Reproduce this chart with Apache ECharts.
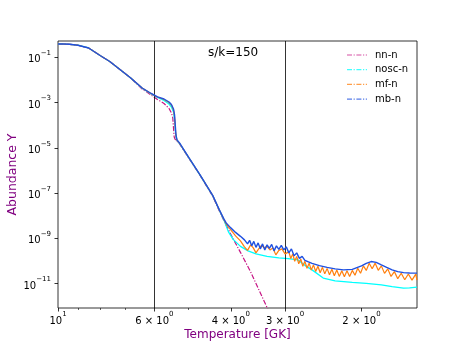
<!DOCTYPE html>
<html>
<head>
<meta charset="utf-8">
<script src="https://cdn.jsdelivr.net/npm/echarts@6/dist/echarts.min.js"></script>
<style>html,body{margin:0;padding:0;background:#fff}#c{width:463px;height:347px}</style>
</head>
<body>
<div id="c"></div>
<script>
// ---- data (temperature in GK, abundance Y) ----
const seriesNames = ['nn-n', 'nosc-n', 'mf-n', 'mb-n'];

const tempHead = [10, 9.7, 9.4, 9.0, 8.5, 8.0, 7.6, 7.2, 6.8];
const abundHead = [0.386, 0.385, 0.375, 0.342, 0.258, 0.120, 0.0653, 0.0289, 0.0122];

const tempNN = [6.4, 6.1, 5.9, 5.7, 5.55, 5.48, 5.44, 5.42, 5.40, 5.37, 5.32, 5.25, 5.0, 4.7, 4.4, 4.25, 4.15, 4.0, 3.8, 3.6, 3.4, 3.25];
const abundNN = [3.98e-3, 2.16e-3, 1.37e-3, 9.13e-4, 5.49e-4, 3.48e-4, 2.09e-4, 7.57e-5, 3.03e-5, 2.35e-5, 2.02e-5, 1.49e-5, 3.58e-6, 5.74e-7, 7.15e-8, 1.64e-8, 6.24e-9, 1.50e-9, 2.41e-10, 3.32e-11, 3.04e-12, 4.65e-13];

const tempNosc = [6.4, 6.1, 5.9, 5.7, 5.55, 5.48, 5.42, 5.39, 5.37, 5.35, 5.32, 5.25, 5.0, 4.7, 4.4, 4.25, 4.15, 4.05, 3.95, 3.8, 3.65, 3.5, 3.3, 3.1, 2.95, 2.8, 2.7, 2.6, 2.45, 2.3, 2.1, 1.95, 1.8, 1.7, 1.6, 1.55, 1.49];
const abundNosc = [4.28e-3, 2.40e-3, 1.68e-3, 1.24e-3, 8.67e-4, 6.39e-4, 3.85e-4, 1.71e-4, 6.17e-5, 3.03e-5, 2.12e-5, 1.56e-5, 3.7e-6, 5.95e-7, 7.6e-8, 1.75e-8, 6.56e-9, 1.94e-9, 9.04e-10, 4.43e-10, 2.81e-10, 2.07e-10, 1.60e-10, 1.38e-10, 1.27e-10, 1.12e-10, 6.43e-11, 4.07e-11, 1.77e-11, 1.33e-11, 1.14e-11, 1.03e-11, 8.85e-12, 7.36e-12, 6.32e-12, 6.52e-12, 7.0e-12];

const tempMf = [6.4, 6.1, 5.9, 5.7, 5.55, 5.48, 5.42, 5.39, 5.37, 5.35, 5.32, 5.25, 5.0, 4.7, 4.4, 4.25, 4.15, 4.1, 4.0, 3.9, 3.8, 3.72, 3.66, 3.60, 3.55, 3.50, 3.45, 3.40, 3.35, 3.30, 3.25, 3.20, 3.15, 3.10, 3.05, 3.00,
  2.94, 2.91, 2.88, 2.85, 2.82, 2.79, 2.76, 2.73, 2.70, 2.67, 2.64, 2.61, 2.58, 2.55, 2.52, 2.49, 2.46, 2.43, 2.40, 2.37, 2.34, 2.31, 2.28, 2.25, 2.22, 2.19, 2.16, 2.13, 2.10, 2.07, 2.04, 2.01, 1.98, 1.95, 1.92, 1.89, 1.86, 1.83, 1.80, 1.77, 1.74, 1.71, 1.68, 1.65, 1.62, 1.59, 1.56, 1.53, 1.50, 1.49];
const abundMf = [4.41e-3, 2.47e-3, 1.77e-3, 1.37e-3, 1.01e-3, 7.83e-4, 4.71e-4, 2.31e-4, 8.38e-5, 3.35e-5, 2.12e-5, 1.6e-5, 3.75e-6, 6.0e-7, 7.7e-8, 1.78e-8, 7.0e-9, 4.37e-9, 2.37e-9, 1.29e-9, 7.76e-10, 4.22e-10, 2.95e-10, 5.16e-10, 3.80e-10, 2.29e-10, 3.44e-10, 4.91e-10, 3.80e-10, 4.43e-10, 3.10e-10, 3.80e-10, 1.87e-10, 2.95e-10, 3.44e-10, 2.07e-10,
  2.54e-10, 1.29e-10, 2.07e-10, 9.77e-11, 1.60e-10, 7.59e-11, 1.23e-10, 5.89e-11, 9.66e-11, 4.79e-11, 8.04e-11, 3.98e-11, 6.76e-11, 3.43e-11, 5.89e-11, 3.01e-11, 5.25e-11, 2.70e-11, 4.73e-11, 2.45e-11, 4.32e-11, 2.24e-11, 3.98e-11, 2.09e-11, 3.73e-11, 2.00e-11, 3.72e-11, 2.06e-11, 3.85e-11, 2.34e-11, 4.79e-11, 2.88e-11, 6.10e-11, 3.85e-11, 7.94e-11, 4.57e-11, 8.04e-11, 3.89e-11, 6.10e-11, 2.84e-11, 4.50e-11, 2.09e-11, 3.40e-11, 1.66e-11, 2.87e-11, 1.49e-11, 2.67e-11, 1.43e-11, 2.63e-11, 1.43e-11];

const tempMb = [6.4, 6.1, 5.9, 5.7, 5.55, 5.48, 5.42, 5.39, 5.37, 5.35, 5.32, 5.25, 5.0, 4.7, 4.4, 4.25, 4.15, 4.1, 4.0, 3.9, 3.8, 3.72, 3.66, 3.62, 3.58, 3.54, 3.50, 3.46, 3.42, 3.38, 3.34, 3.30, 3.26, 3.22, 3.18, 3.14, 3.10, 3.06, 3.02, 2.98, 2.94, 2.90, 2.86, 2.82, 2.78, 2.74, 2.70, 2.65, 2.6, 2.5, 2.4, 2.3, 2.2, 2.1, 2.0, 1.95, 1.9, 1.85, 1.8, 1.75, 1.7, 1.65, 1.6, 1.55, 1.49];
const abundMb = [4.41e-3, 2.52e-3, 1.8e-3, 1.44e-3, 1.06e-3, 8.24e-4, 5.21e-4, 2.84e-4, 1.03e-4, 3.72e-5, 2.23e-5, 1.65e-5, 3.77e-6, 6.04e-7, 7.76e-8, 1.81e-8, 7.26e-9, 4.83e-9, 2.91e-9, 1.84e-9, 1.23e-9, 8.59e-10, 5.72e-10, 8.17e-10, 4.67e-10, 7.38e-10, 4.01e-10, 6.32e-10, 3.44e-10, 5.72e-10, 3.10e-10, 5.16e-10, 3.61e-10, 5.43e-10, 2.81e-10, 4.67e-10, 3.27e-10, 4.91e-10, 3.10e-10, 4.22e-10, 2.29e-10, 3.44e-10, 1.69e-10, 2.29e-10, 1.31e-10, 1.60e-10, 1.07e-10, 9.16e-11, 7.87e-11, 6.23e-11, 5.25e-11, 4.50e-11, 4.07e-11, 4.28e-11, 6.11e-11, 7.87e-11, 9.46e-11, 8.71e-11, 6.76e-11, 5.25e-11, 4.07e-11, 3.39e-11, 3.06e-11, 2.94e-11, 2.91e-11];

const markTemps = [6, 3];
const xTickValues = [10, 6, 4, 3, 2];
const xTickLabels = ['10^1', '6 × 10^0', '4 × 10^0', '3 × 10^0', '2 × 10^0'];
const xMinorValues = [9, 8, 7, 5];
const yTickValues = [1e-11, 1e-9, 1e-7, 1e-5, 1e-3, 1e-1];
const yTickLabels = ['10^−11', '10^−9', '10^−7', '10^−5', '10^−3', '10^−1'];
const annotation = 's/k=150';

// ---- helpers ----
const FONT = 'DejaVu Sans';
function pairs(ts, ys) { return ts.map((t, i) => [t, ys[i]]); }
function nearestLabel(v, vals, labels) {
  let best = 0, bd = Infinity;
  vals.forEach((w, i) => { const d = Math.abs(Math.log(v) - Math.log(w)); if (d < bd) { bd = d; best = i; } });
  const parts = labels[best].split('^');
  return '{b|' + parts[0] + '}{s|' + parts[1] + '}';
}
const richSup = {
  b: { fontSize: 10, fontFamily: FONT, color: '#000', lineHeight: 15, verticalAlign: 'bottom' },
  s: { fontSize: 7, fontFamily: FONT, color: '#000', lineHeight: 7, verticalAlign: 'top' }
};

const colors = ['#c71585', '#00ffff', '#ff7f0e', '#1f50e0'];
const dashDot = [5, 1.6, 1.2, 1.6];

const chart = echarts.init(document.getElementById('c'), null, { renderer: 'canvas' });
const lineBase = (name, data, color, width, z, dashed) => ({
  name, type: 'line', data, showSymbol: false, symbol: 'none', z,
  lineStyle: { color, width, type: dashed ? dashDot : 'solid' },
  itemStyle: { color }, clip: true, animation: false
});

const series = [
  lineBase(seriesNames[0], pairs(tempHead.concat(tempNN), abundHead.concat(abundNN)), colors[0], 1.2, 3, true),
  lineBase(seriesNames[1], pairs(tempHead.concat(tempNosc), abundHead.concat(abundNosc)), colors[1], 1.3, 4, false),
  lineBase(seriesNames[2], pairs(tempHead.concat(tempMf), abundHead.concat(abundMf)), colors[2], 1.2, 5, false),
  lineBase(seriesNames[3], pairs(tempHead.concat(tempMb), abundHead.concat(abundMb)), colors[3], 1.4, 6, false)
];
series[0].markLine = {
  silent: true, symbol: ['none', 'none'], label: { show: false }, animation: false,
  lineStyle: { color: '#000', width: 0.8, type: 'solid' },
  data: markTemps.map(t => ({ xAxis: t }))
};

// legend drawn as graphic (line sample + text)
const legendGraphics = [];
seriesNames.forEach((n, i) => {
  const yc = 55 + i * 14.7;
  legendGraphics.push({
    type: 'line', z: 20, silent: true,
    shape: { x1: 347, y1: yc, x2: 367, y2: yc },
    style: { stroke: colors[i], lineWidth: 1.2, lineDash: dashDot, opacity: 0.75 }
  });
  legendGraphics.push({
    type: 'text', z: 20, silent: true, x: 375, y: yc,
    style: { text: n, font: '10px "DejaVu Sans"', fill: '#000', textVerticalAlign: 'middle', verticalAlign: 'middle' }
  });
});

const gridBox = { left: 58, right: 46, top: 41, bottom: 39 };
const option = {
  animation: false,
  backgroundColor: '#fff',
  grid: [
    Object.assign({ show: true, borderColor: '#000', borderWidth: 0.8, backgroundColor: 'transparent', outerBoundsMode: 'none', containLabel: false }, gridBox),
    Object.assign({ show: false, outerBoundsMode: 'none', containLabel: false }, gridBox)
  ],
  xAxis: [{
    gridIndex: 0,
    type: 'log', logBase: 10, inverse: true, min: 1.49, max: 10,
    axisLine: { show: false },
    splitLine: { show: false },
    axisTick: { show: true, inside: false, length: 3.5, customValues: xTickValues, lineStyle: { color: '#000', width: 0.8 } },
    axisLabel: {
      show: true, margin: 3, customValues: xTickValues,
      formatter: v => nearestLabel(v, xTickValues, xTickLabels), rich: richSup
    },
    name: 'Temperature [GK]', nameLocation: 'middle', nameGap: 21, nameMoveOverlap: false,
    nameTextStyle: { color: '#800080', fontSize: 12, fontFamily: FONT }
  }, {
    gridIndex: 1,
    type: 'log', logBase: 10, inverse: true, min: 1.49, max: 10, position: 'bottom',
    axisLine: { show: false }, splitLine: { show: false }, axisLabel: { show: false },
    axisTick: { show: true, inside: false, length: 2, customValues: xMinorValues, lineStyle: { color: '#000', width: 0.6 } }
  }],
  yAxis: [{
    gridIndex: 0,
    type: 'log', logBase: 10, min: 8.4e-13, max: 0.525,
    axisLine: { show: false }, splitLine: { show: false },
    axisTick: { show: true, inside: false, length: 3.5, customValues: yTickValues, lineStyle: { color: '#000', width: 0.8 } },
    axisLabel: {
      show: true, margin: 7, customValues: yTickValues,
      formatter: v => nearestLabel(v, yTickValues, yTickLabels), rich: richSup
    },
    name: 'Abundance Y', nameLocation: 'middle', nameGap: 39, nameMoveOverlap: false,
    nameTextStyle: { color: '#800080', fontSize: 12.5, fontFamily: FONT }
  }, {
    gridIndex: 1, type: 'log', min: 8.4e-13, max: 0.525, show: false
  }],
  graphic: [{
    type: 'text', left: 208, top: 47, z: 10,
    style: { text: annotation, font: '12px "DejaVu Sans"', fill: '#000' }
  }].concat(legendGraphics),
  series
};
chart.setOption(option);
</script>
</body>
</html>
